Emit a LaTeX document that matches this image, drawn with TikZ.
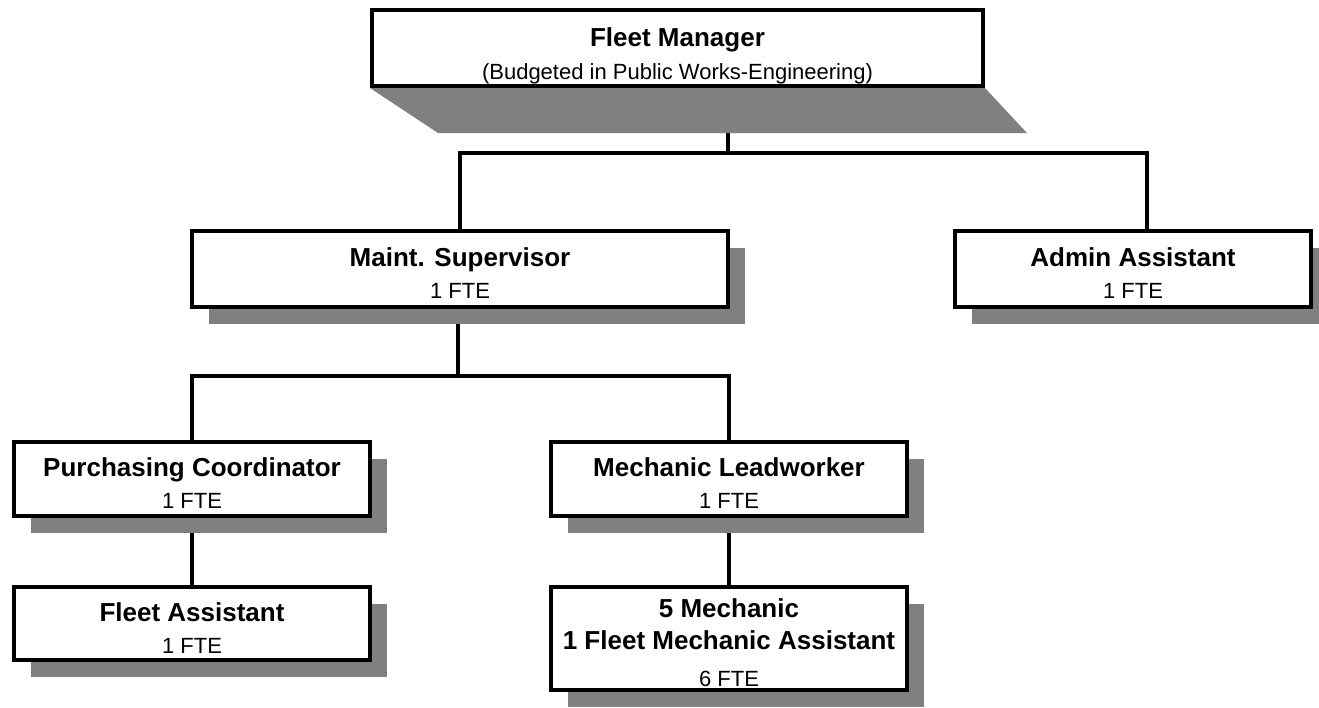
\documentclass[tikz,border=0pt]{standalone}
\usepackage{fontspec}
\setmainfont{Liberation Sans}
\usetikzlibrary{shadows,backgrounds}
\definecolor{shadowgray}{HTML}{808080}
\newcommand{\rolefont}{\fontsize{26}{32}\selectfont\bfseries}
\newcommand{\ftefont}{\fontsize{22}{32}\selectfont\mdseries}

\begin{document}
\begin{tikzpicture}[x=1pt, y=-1pt,
    box/.style={draw, line width=4pt, fill=white, inner sep=0pt, align=center, font=\rolefont, minimum width=356pt, minimum height=74pt},
    post/.style={box, drop shadow={shadow xshift=17pt, shadow yshift=-17pt, opacity=1, fill=shadowgray}},
    wire/.style={line width=4pt}]
  \useasboundingbox (0,0) rectangle (1319,707);
  % top box
  \node[box, minimum width=611pt, minimum height=76pt] (fm) at (677.5,48) {\rule{0pt}{35pt}Fleet Manager\\[1.5pt]\ftefont (Budgeted in Public Works-Engineering)};
  % one-FTE boxes
  \foreach \name/\x/\y/\w/\h/\role in {ms/460/269/536/76/Maint. Supervisor, aa/1133/269/356/76/Admin Assistant, pc/192/479/356/74/Purchasing Coordinator, ml/729/479/356/74/Mechanic Leadworker, fa/192/623.5/356/73/Fleet Assistant} {
    \node[post, minimum width=\w pt, minimum height=\h pt] (\name) at (\x,\y) {\rule{0pt}{27pt}\role\\\ftefont 1 FTE};
  }
  \node[post, minimum height=103pt] (mech) at (729,638.5) {\rule{0pt}{27pt}5 Mechanic\\1 Fleet Mechanic Assistant\\[4.5pt]\ftefont 6 FTE};
  % lines and top shadow
  \begin{pgfonlayer}{background}
    \coordinate (j1) at (728,153);
    \coordinate (j2) at (458,376);
    \draw[wire] (fm.south -| j1) -- (j1) (ms.north) |- (j1) -| ([xshift=14pt]aa.north);
    \draw[wire] (ms.south -| j2) -- (j2) (pc.north) |- (j2) -| (ml.north);
    \draw[wire] (pc) -- (fa) (ml) -- (mech);
    \fill[shadowgray] (fm.south west) -- (fm.south east) -- ++(42,45) -- ([shift={(68,45)}]fm.south west) -- cycle;
  \end{pgfonlayer}
\end{tikzpicture}
\end{document}
